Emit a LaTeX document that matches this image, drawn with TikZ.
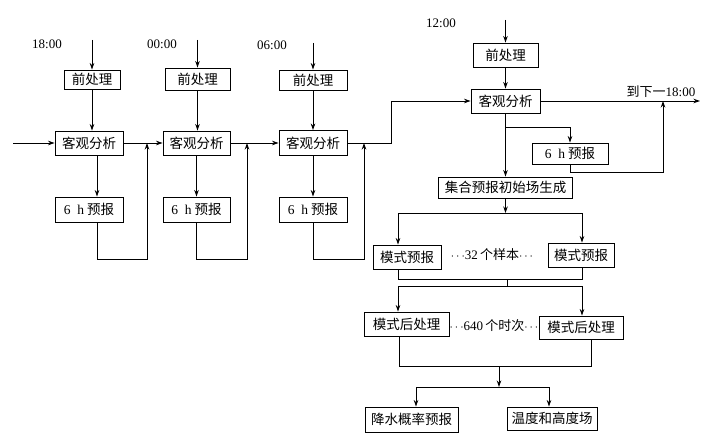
\documentclass[tikz,border=0pt]{standalone}
\usepackage{fontspec}
\setmainfont{Liberation Serif}
\newfontfamily\cjk{Noto Sans CJK SC}
\usetikzlibrary{arrows.meta}
\begin{document}
\begin{tikzpicture}[x=1pt,y=-1pt,
  box/.style={draw,line width=0.9pt,inner sep=0pt,font=\fontsize{13.5}{14}\selectfont\cjk},
  lbl/.style={inner sep=0pt,font=\fontsize{13}{14}\selectfont},
  arr/.style={-{Stealth[length=6.5pt,width=4.5pt]},line width=0.9pt},
  ln/.style={line width=0.9pt}]
\useasboundingbox (0,0) rectangle (711,441);
% column 1
\node[box,minimum width=56pt,minimum height=19pt] (pre1) at (92,79.5) {前处理};
\node[box,minimum width=68pt,minimum height=24pt] (ana1) at (89,143) {客观分析};
\node[box,minimum width=68pt,minimum height=25pt] (f1) at (89,209.5) {{\rmfamily 6\ \ h} 预报};
\node[lbl] (l1) at (47,44) {18:00};
% column 2
\node[box,minimum width=65pt,minimum height=22pt] (pre2) at (197.5,79) {前处理};
\node[box,minimum width=67pt,minimum height=24pt] (ana2) at (196.5,143) {客观分析};
\node[box,minimum width=67pt,minimum height=25pt] (f2) at (196.5,209.5) {{\rmfamily 6\ \ h} 预报};
\node[lbl] (l2) at (162,44) {00:00};
% column 3
\node[box,minimum width=68pt,minimum height=20pt] (pre3) at (313,80) {前处理};
\node[box,minimum width=68pt,minimum height=25pt] (ana3) at (313,143) {客观分析};
\node[box,minimum width=68pt,minimum height=25pt] (f3) at (313,209.5) {{\rmfamily 6\ \ h} 预报};
\node[lbl] (l3) at (272,45) {06:00};
% column 4
\node[lbl] (l4) at (441,23) {12:00};
\node[box,minimum width=65pt,minimum height=24pt] (pre4) at (505.5,55) {前处理};
\node[box,minimum width=69pt,minimum height=24pt] (ana4) at (505.5,101) {客观分析};
\node[box,minimum width=76pt,minimum height=21pt] (f4) at (570,153.5) {{\rmfamily 6\ \ h} 预报};
\node[lbl] (next) at (661,92) {{\cjk 到下一}18:00};
\node[box,minimum width=134pt,minimum height=21pt] (ens) at (505.5,187.5) {集合预报初始场生成};
\node[box,minimum width=68pt,minimum height=24pt] (mp1) at (407,257) {模式预报};
\node[box,minimum width=66pt,minimum height=24pt] (mp2) at (581,255) {模式预报};
\node[lbl] (d1) at (492,255) {$\cdots$32\,{\cjk 个样本}$\cdots$};
\node[box,minimum width=85pt,minimum height=24pt] (pp1) at (406.5,324) {模式后处理};
\node[box,minimum width=84pt,minimum height=23pt] (pp2) at (581,327.5) {模式后处理};
\node[lbl] (d2) at (494,326) {$\cdots$640\,{\cjk 个时次}$\cdots$};
\node[box,minimum width=93pt,minimum height=25pt] (o1) at (411.5,419.5) {降水概率预报};
\node[box,minimum width=90pt,minimum height=23pt] (o2) at (552,418.5) {温度和高度场};
% coordinates
\coordinate (in1) at (13,143);
\coordinate (t1) at (92,40);
\coordinate (t2) at (197.5,40);
\coordinate (t3) at (313,43);
\coordinate (t4) at (505.5,20);
\coordinate (c1) at (147,259);
\coordinate (c2) at (247,259);
\coordinate (c3) at (364,259);
\coordinate (j3) at (391,143);
\coordinate (out) at (700,101);
\coordinate (b4) at (505.5,127);
\coordinate (c4) at (663,172);
\coordinate (s1l) at (398,213);
\coordinate (s1r) at (582,213);
\coordinate (m1l) at (398,279);
\coordinate (m1r) at (582,279);
\coordinate (m1c) at (507,279);
\coordinate (s2l) at (398,286);
\coordinate (s2r) at (582,286);
\coordinate (m2l) at (399,366);
\coordinate (m2r) at (591,366);
\coordinate (m2c) at (499,366);
\coordinate (s3l) at (416,387);
\coordinate (s3r) at (549,387);
% column 1 connectors
\draw[arr] (in1) -- (ana1.west);
\draw[arr] (t1) -- (pre1.north);
\draw[arr] (pre1.south) -- (pre1.south |- ana1.north);
\draw[arr] ([xshift=8pt]ana1.south) -- ([xshift=8pt]f1.north);
\draw[arr] ([xshift=8pt]f1.south) |- (c1) -- (c1 |- ana1.east);
\draw[arr] (ana1.east) -- (ana2.west);
% column 2
\draw[arr] (t2) -- (pre2.north);
\draw[arr] (pre2.south) -- (pre2.south |- ana2.north);
\draw[arr] (ana2.south) -- (f2.north);
\draw[arr] (f2.south) |- (c2) -- (c2 |- ana2.east);
\draw[arr] (ana2.east) -- (ana3.west);
% column 3
\draw[arr] (t3) -- (pre3.north);
\draw[arr] (pre3.south) -- (ana3.north);
\draw[arr] (ana3.south) -- (f3.north);
\draw[arr] (f3.south) |- (c3) -- (c3 |- ana3.east);
\draw[arr] (ana3.east) -- (j3) |- (ana4.west);
% column 4
\draw[arr] (t4) -- (pre4.north);
\draw[arr] (pre4.south) -- (ana4.north);
\draw[arr] (ana4.east) -- (out);
\draw[arr] (b4) -| (f4.north);
\draw[arr] (f4.south) |- (c4) -- (c4 |- out);
\draw[arr] (ana4.south) -- (ens.north);
\draw[arr] (ens.south) -- (ens.south |- s1l);
\draw[ln] (s1l) -- (s1r);
\draw[arr] (s1l) -- (s1l |- mp1.north);
\draw[arr] (s1r) -- (s1r |- mp2.north);
\draw[ln] (s1l |- mp1.south) -- (m1l) -- (m1r) -- (s1r |- mp2.south);
\draw[ln] (m1c) -- (m1c |- s2l);
\draw[ln] (s2l) -- (s2r);
\draw[arr] (s2l) -- (s2l |- pp1.north);
\draw[arr] (s2r) -- (s2r |- pp2.north);
\draw[ln] (m2l |- pp1.south) -- (m2l) -- (m2r) -- (m2r |- pp2.south);
\draw[arr] (m2c) -- (m2c |- s3l);
\draw[ln] (s3l) -- (s3r);
\draw[arr] (s3l) -- (s3l |- o1.north);
\draw[arr] (s3r) -- (s3r |- o2.north);
\end{tikzpicture}
\end{document}
